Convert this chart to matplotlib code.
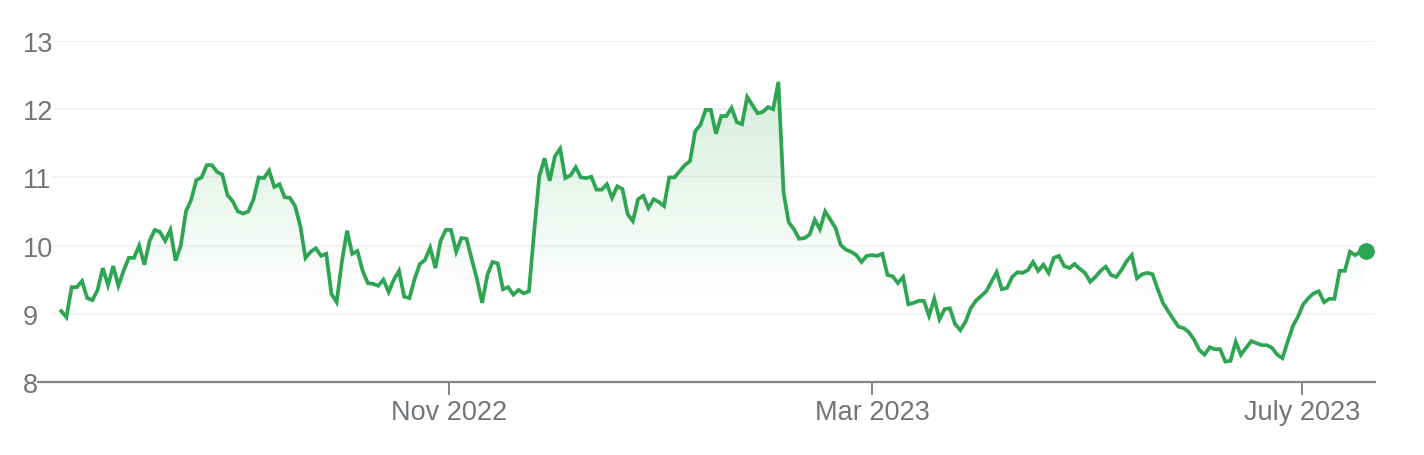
import numpy as np
import pandas as pd
import matplotlib
matplotlib.use('Agg')
import matplotlib.pyplot as plt
import matplotlib.dates as mdates
from matplotlib.colors import to_rgb

# daily closes (mid Jul 2022 -> mid Jul 2023)
prices = [
    9.04, 8.95, 9.39, 9.39, 9.48, 9.23, 9.20, 9.35, 9.67, 9.42,
    9.70, 9.41, 9.63, 9.82, 9.82, 10.00, 9.72, 10.07, 10.23, 10.20,
    10.07, 10.23, 9.78, 10.00, 10.50, 10.67, 10.96, 11.00, 11.18, 11.18,
    11.08, 11.04, 10.74, 10.65, 10.50, 10.47, 10.50, 10.68, 11.00, 10.99,
    11.10, 10.86, 10.90, 10.71, 10.70, 10.58, 10.29, 9.82, 9.91, 9.96,
    9.85, 9.88, 9.29, 9.17, 9.76, 10.22, 9.88, 9.92, 9.63, 9.45,
    9.44, 9.41, 9.50, 9.32, 9.50, 9.63, 9.25, 9.23, 9.51, 9.73,
    9.79, 9.97, 9.67, 10.07, 10.23, 10.23, 9.91, 10.11, 10.10, 9.80,
    9.51, 9.16, 9.57, 9.76, 9.74, 9.36, 9.39, 9.28, 9.35, 9.30,
    9.33, 10.20, 11.02, 11.28, 10.95, 11.31, 11.42, 10.99, 11.03, 11.15,
    11.00, 10.99, 11.01, 10.82, 10.82, 10.90, 10.70, 10.87, 10.83, 10.46,
    10.36, 10.68, 10.73, 10.55, 10.68, 10.64, 10.58, 11.00, 11.00, 11.09,
    11.18, 11.24, 11.68, 11.77, 11.99, 11.99, 11.64, 11.90, 11.90, 12.02,
    11.81, 11.78, 12.18, 12.06, 11.94, 11.96, 12.03, 12.00, 12.40, 10.78,
    10.34, 10.24, 10.10, 10.11, 10.16, 10.38, 10.24, 10.50, 10.38, 10.26,
    10.01, 9.94, 9.91, 9.86, 9.76, 9.85, 9.86, 9.85, 9.88, 9.57,
    9.55, 9.45, 9.54, 9.14, 9.16, 9.19, 9.19, 8.97, 9.22, 8.92,
    9.07, 9.08, 8.85, 8.76, 8.88, 9.08, 9.19, 9.26, 9.33, 9.47,
    9.61, 9.36, 9.38, 9.54, 9.61, 9.60, 9.64, 9.76, 9.63, 9.72,
    9.60, 9.82, 9.85, 9.70, 9.67, 9.73, 9.66, 9.60, 9.47, 9.54,
    9.63, 9.69, 9.57, 9.54, 9.64, 9.77, 9.86, 9.52, 9.58, 9.60,
    9.58, 9.36, 9.16, 9.04, 8.92, 8.81, 8.79, 8.73, 8.62, 8.47,
    8.40, 8.51, 8.48, 8.48, 8.30, 8.31, 8.59, 8.40, 8.50, 8.60,
    8.57, 8.54, 8.54, 8.50, 8.40, 8.35, 8.59, 8.82, 8.96, 9.14,
    9.23, 9.30, 9.33, 9.17, 9.22, 9.22, 9.63, 9.63, 9.91, 9.86,
    9.91, 9.92,
]
start_date = '2022-07-14'
end_date = '2023-07-19'

yticks = [8, 9, 10, 11, 12, 13]
xtick_dates = ['2022-11-01', '2023-03-01', '2023-07-01']
xtick_labels = ['Nov 2022', 'Mar 2023', 'July 2023']

green = '#2ea552'
grey_text = '#70757a'

plt.rcParams['font.family'] = ['Liberation Sans', 'DejaVu Sans']

dates = pd.date_range(start_date, end_date, periods=len(prices))
x = mdates.date2num(dates.to_pydatetime())
y = np.array(prices)

fig = plt.figure(figsize=(14.24, 4.56), dpi=100)
ax = fig.add_axes([53 / 1424, 1 - 383 / 456, (1375 - 53) / 1424, (383 - 42) / 456])

# gradient fill under the line, fading out towards ~9.2
poly = ax.fill_between(x, y, 8, color='none', lw=0)
ny = 300
yy = np.linspace(8, y.max(), ny)
alpha = np.clip((yy - 9.2) / (y.max() - 9.2), 0, 1) * 0.2
rgba = np.zeros((ny, 1, 4))
rgba[:, 0, :3] = to_rgb(green)
rgba[:, 0, 3] = alpha
im = ax.imshow(rgba, extent=[x[0], x[-1], 8, y.max()], origin='lower',
               aspect='auto', zorder=1, interpolation='bilinear')
im.set_clip_path(poly.get_paths()[0], transform=ax.transData)

ax.plot(x, y, color=green, lw=2.7, zorder=3, solid_joinstyle='miter')
ax.plot(x[-1], y[-1], 'o', color=green, markersize=11, zorder=4)

xmin = mdates.date2num(pd.Timestamp('2022-07-11 16:00'))
xmax = mdates.date2num(pd.Timestamp('2023-07-21 16:00'))
ax.set_xlim(xmin, xmax)
ax.set_ylim(8, 13)

for v in yticks[1:]:
    ax.axhline(v, color='#f2f2f2', lw=1.4, zorder=0)
# baseline runs a bit past the grid to the left
ax.axhline(8, xmin=-0.0115, xmax=1, color='#80868b', lw=1.6, clip_on=False, zorder=5)

for s in ax.spines.values():
    s.set_visible(False)

ax.set_yticks(yticks)
ax.set_yticklabels([str(v) for v in yticks])
ax.tick_params(axis='y', length=0, pad=21.6, labelsize=19.5, labelcolor=grey_text)
for lab in ax.get_yticklabels():
    lab.set_horizontalalignment('left')

ax.set_xticks(mdates.date2num(pd.to_datetime(xtick_dates).to_pydatetime()))
ax.set_xticklabels(xtick_labels)
ax.tick_params(axis='x', length=9, width=1.4, color='#80868b', pad=3,
               labelsize=19.5, labelcolor=grey_text)

fig.savefig('out.png', dpi=100, facecolor='white')
